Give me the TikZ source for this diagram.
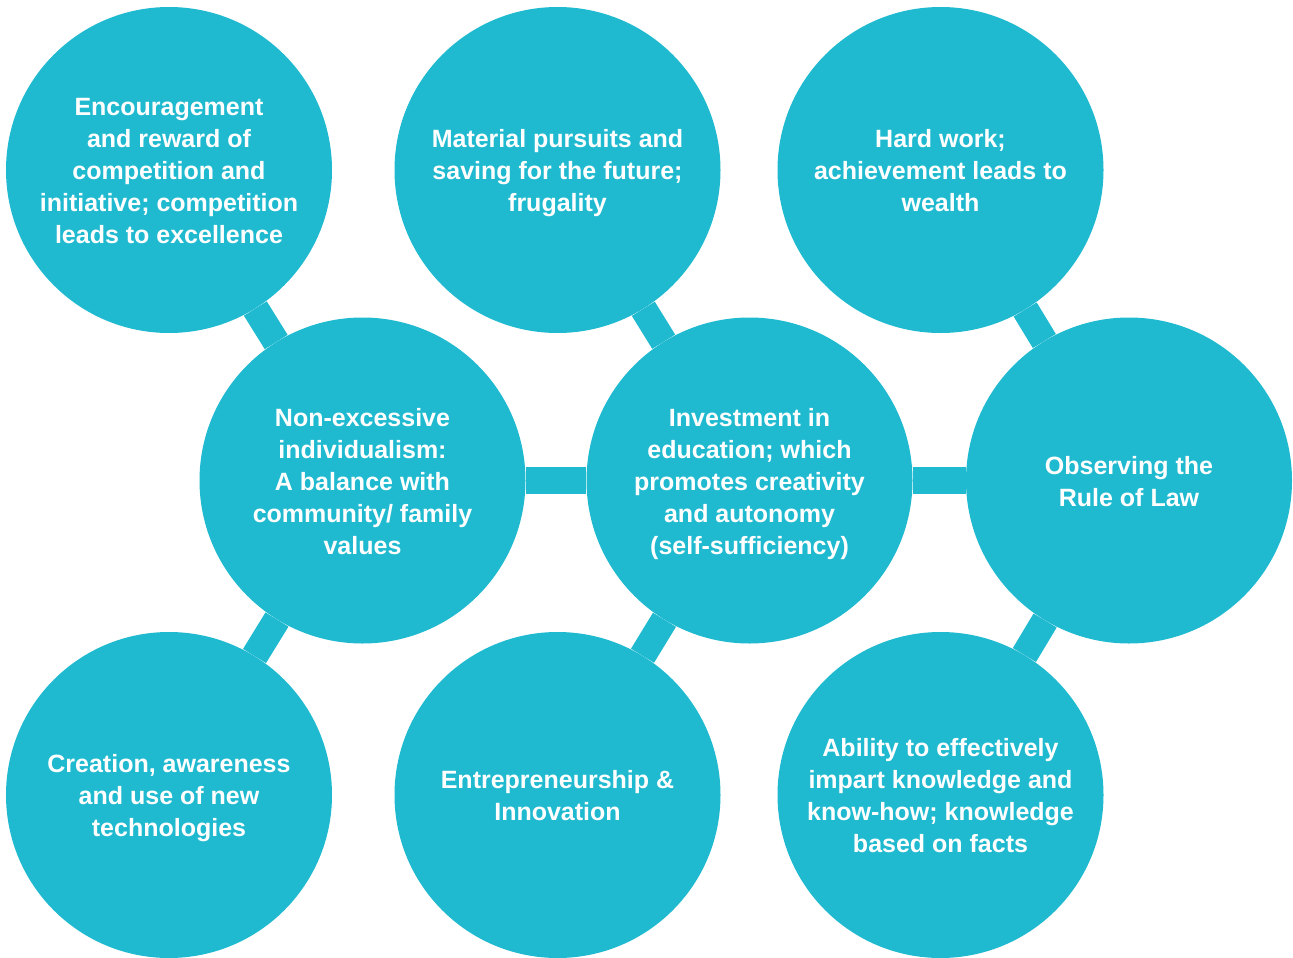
\documentclass[tikz,border=0pt]{standalone}
\usepackage{fontspec}
\setmainfont{Liberation Sans}
\usetikzlibrary{backgrounds}
\definecolor{teal}{RGB}{31,186,208}
\newcommand\topgap{\rule{0pt}{29pt}}
\begin{document}
\begin{tikzpicture}[x=1pt,y=-1pt,
  bubble/.style={circle, fill=teal, minimum size=326pt, inner sep=0pt,
    text=white, align=center, font=\bfseries\fontsize{25}{32}\selectfont},
  link/.style={teal, line width=27pt}]
\useasboundingbox (0,0) rectangle (1293,958);
\node[bubble] (tl) at (169,170) {\topgap Encouragement\\and reward of\\competition and\\initiative; competition\\leads to excellence\strut};
\node[bubble] (tm) at (557.5,170) {\topgap Material pursuits and\\saving for the future;\\frugality\strut};
\node[bubble] (tr) at (940.5,170) {\topgap Hard work;\\achievement leads to\\wealth\strut};
\node[bubble] (ml) at (362.5,480.5) {\topgap Non-excessive\\individualism:\\A balance with\\community/ family\\values\strut};
\node[bubble] (mc) at (749.5,480.5) {\topgap Investment in\\education; which\\promotes creativity\\and autonomy\\(self-sufficiency)\strut};
\node[bubble] (mr) at (1129,480.5) {\topgap Observing the\\Rule of Law\strut};
\node[bubble] (bl) at (169,795) {\topgap Creation, awareness\\and use of new\\technologies\strut};
\node[bubble] (bm) at (557.5,795) {\topgap Entrepreneurship \&\\Innovation\strut};
\node[bubble] (br) at (940.5,795) {\topgap Ability to effectively\\impart knowledge and\\know-how; knowledge\\based on facts\strut};
\begin{scope}[on background layer]
\draw[link] (tl) -- (ml);
\draw[link] (tm) -- (mc);
\draw[link] (tr) -- (mr);
\draw[link] (ml) -- (bl);
\draw[link] (mc) -- (bm);
\draw[link] (mr) -- (br);
\draw[link] (ml) -- (mc);
\draw[link] (mc) -- (mr);
\end{scope}
\end{tikzpicture}
\end{document}
